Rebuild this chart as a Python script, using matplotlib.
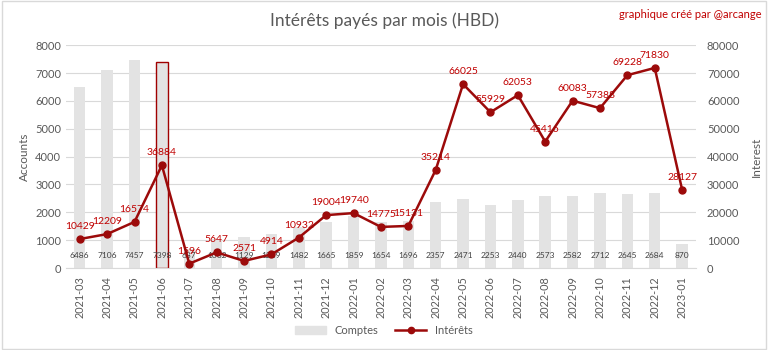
import numpy as np
import matplotlib
matplotlib.use("Agg")
from matplotlib import pyplot as plt
from matplotlib.lines import Line2D
from matplotlib.patches import Patch

plt.rcParams['font.family'] = ['Lato', 'DejaVu Sans']

# data
months = ['2021-03', '2021-04', '2021-05', '2021-06', '2021-07', '2021-08', '2021-09',
          '2021-10', '2021-11', '2021-12', '2022-01', '2022-02', '2022-03', '2022-04',
          '2022-05', '2022-06', '2022-07', '2022-08', '2022-09', '2022-10', '2022-11',
          '2022-12', '2023-01']
comptes = [6486, 7106, 7457, 7398, 687, 1062, 1129, 1239, 1482, 1665, 1859, 1654,
           1696, 2357, 2471, 2253, 2440, 2573, 2582, 2712, 2645, 2684, 870]
interets = [10429, 12209, 16574, 36884, 1596, 5647, 2571, 4914, 10932, 19004, 19740,
            14775, 15131, 35214, 66025, 55929, 62053, 45416, 60083, 57388, 69228,
            71830, 28127]
highlight = '2021-06'

gray_txt = '#595959'
bar_col = '#e3e3e3'
line_col = '#9c0a0a'
lab_col = '#c00000'

fig = plt.figure(figsize=(7.68, 3.5), dpi=100)
ax = fig.add_axes([0.086, 0.234, 0.82, 0.637])
ax2 = ax.twinx()

x = np.arange(len(months))
bars = ax.bar(x, comptes, width=0.42, color=bar_col, zorder=2)
hi = months.index(highlight)
bars[hi].set_edgecolor('#a00000')
bars[hi].set_linewidth(1.0)

for xi, v in zip(x, comptes):
    ax.annotate(str(v), (xi, 0), xytext=(0, 9), textcoords='offset points',
                ha='center', va='center', fontsize=6, color='#404040', zorder=3)

ax.set_ylim(0, 8000)
ax.set_yticks(range(0, 8001, 1000))
ax.set_xlim(-0.5, len(months) - 0.5)
ax.set_xticks(x)
ax.set_xticklabels(months, rotation=90, fontsize=7.8, color=gray_txt)
ax.tick_params(axis='y', labelsize=8, colors=gray_txt, length=0)
ax.tick_params(axis='x', length=0, pad=6)
ax.grid(axis='y', color='#d9d9d9', lw=0.8, zorder=0)
ax.set_axisbelow(True)
ax.set_ylabel('Accounts', fontsize=8.5, color=gray_txt)

ax2.plot(x, interets, color=line_col, lw=1.8, marker='o', ms=5, zorder=4)
for xi, v in zip(x, interets):
    ax2.annotate(str(v), (xi, v), xytext=(0, 9), textcoords='offset points',
                 ha='center', va='center', fontsize=7.5, color=lab_col)
ax2.set_ylim(0, 80000)
ax2.set_yticks(range(0, 80001, 10000))
ax2.tick_params(axis='y', labelsize=8, colors=gray_txt, length=0, pad=8)
ax2.set_ylabel('Interest', fontsize=8.5, color=gray_txt, labelpad=8)

for a in (ax, ax2):
    for s in a.spines.values():
        s.set_visible(False)
ax.spines['bottom'].set_visible(True)
ax.spines['bottom'].set_color('#d9d9d9')

fig.text(0.5, 0.94, 'Intérêts payés par mois (HBD)', ha='center', va='center',
         fontsize=12.5, color=gray_txt)
fig.text(0.992, 0.96, 'graphique créé par @arcange', ha='right', va='center',
         fontsize=8, color=lab_col)

handles = [Patch(color=bar_col, label='Comptes'),
           Line2D([], [], color=line_col, lw=1.8, marker='o', ms=4.5, label='Intérêts')]
fig.legend(handles=handles, loc='center', bbox_to_anchor=(0.5, 0.057), ncol=2,
           frameon=False, fontsize=8, labelcolor=gray_txt, handlelength=2.8,
           columnspacing=1.5)

fig.patches.append(plt.Rectangle((0.002, 0.003), 0.995, 0.993, transform=fig.transFigure,
                                 fill=False, edgecolor='#d9d9d9', lw=1))

fig.savefig('out.png', dpi=100)
